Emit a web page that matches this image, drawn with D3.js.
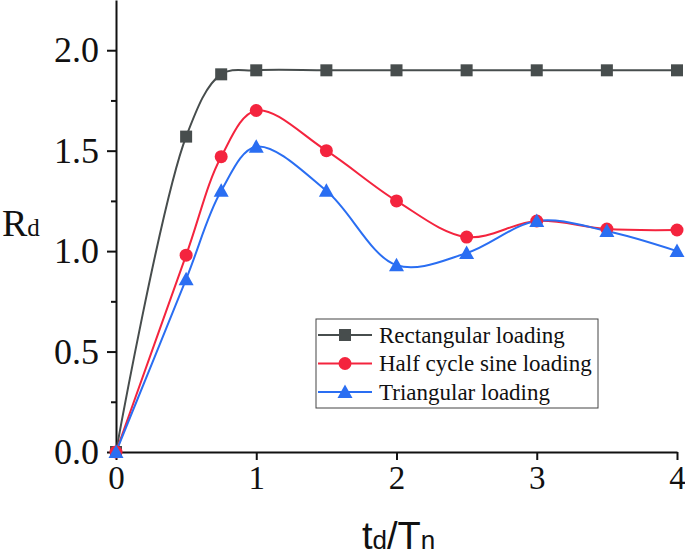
<!DOCTYPE html>
<html><head><meta charset="utf-8">
<script src="https://cdn.jsdelivr.net/npm/d3@7"></script>
<style>body{margin:0;background:#fff}svg{display:block}</style>
</head><body><svg id="c" width="685" height="558"></svg>
<script>
const xValues = [0, 0.5, 0.75, 1, 1.5, 2, 2.5, 3, 3.5, 4];
const rectangular = [0, 1.57, 1.88, 1.90, 1.90, 1.90, 1.90, 1.90, 1.90, 1.90];
const halfSine = [0, 0.98, 1.47, 1.70, 1.50, 1.25, 1.07, 1.15, 1.11, 1.105];
const triangular = [0, 0.86, 1.30, 1.52, 1.30, 0.93, 0.99, 1.15, 1.10, 1.00];
const seriesNames = ["Rectangular loading", "Half cycle sine loading", "Triangular loading"];
const xTicks = [0, 1, 2, 3, 4];
const yTicks = [0, 0.5, 1.0, 1.5, 2.0];
const yMinorTicks = [0.25, 0.75, 1.25, 1.75];

const colors = ["#474d4d", "#f4243e", "#2a6ef2"];
const shapes = ["square", "circle", "triangle"];

const svg = d3.select("#c");
const x = d3.scaleLinear().domain([0, 4]).range([116, 677]);
const y = d3.scaleLinear().domain([0, 2.25]).range([452, 0]);

const serif = "'Liberation Serif','Times New Roman',serif";
const sans = "'Liberation Sans',Arial,sans-serif";

// axes
const yAxis = svg.append("g").attr("transform", `translate(${x(0)},0)`)
  .call(d3.axisLeft(y).tickValues(yTicks).tickFormat(d3.format(".1f")).tickSize(9).tickSizeOuter(0).tickPadding(8));
svg.append("g").attr("transform", `translate(${x(0)},0)`)
  .call(d3.axisLeft(y).tickValues(yMinorTicks).tickFormat("").tickSize(5).tickSizeOuter(0))
  .select(".domain").remove();
yAxis.selectAll("text").attr("font-family", serif).attr("font-size", 36).attr("fill", "#111");
const xAxis = svg.append("g").attr("transform", `translate(0,${y(0)})`)
  .call(d3.axisBottom(x).tickValues(xTicks).tickFormat(d3.format("d")).tickSize(8).tickSizeOuter(0).tickPadding(6));
xAxis.selectAll("text").attr("font-family", serif).attr("font-size", 33).attr("fill", "#111");
svg.selectAll(".domain").attr("stroke", "#111").attr("stroke-width", 2);
svg.selectAll(".tick line").attr("stroke", "#111").attr("stroke-width", 2);

// axis titles
const yt = svg.append("text").attr("x", 2).attr("y", 236).attr("font-family", serif).attr("fill", "#111");
yt.append("tspan").attr("font-size", 38).text("R");
yt.append("tspan").attr("font-size", 25).text("d");
const xt = svg.append("text").attr("x", 362).attr("y", 549).attr("font-family", sans).attr("fill", "#111");
xt.append("tspan").attr("font-size", 38).text("t");
xt.append("tspan").attr("font-size", 26).text("d");
xt.append("tspan").attr("font-size", 38).text("/T");
xt.append("tspan").attr("font-size", 26).text("n");

const data = [rectangular, halfSine, triangular];
const line = d3.line().x(d => x(d[0])).y(d => y(d[1])).curve(d3.curveCatmullRom.alpha(0.5));

function marker(g, shape, color) {
  if (shape === "square") g.append("rect").attr("x", -6).attr("y", -6).attr("width", 12).attr("height", 12).attr("fill", color);
  else if (shape === "circle") g.append("circle").attr("r", 6.5).attr("fill", color);
  else g.append("path").attr("d", "M0,-7.5L7.5,6L-7.5,6Z").attr("fill", color);
}

data.forEach((vals, i) => {
  const pts = xValues.map((xv, j) => [xv, vals[j]]);
  svg.append("path").attr("d", line(pts)).attr("fill", "none").attr("stroke", colors[i]).attr("stroke-width", 2);
});
data.forEach((vals, i) => {
  xValues.forEach((xv, j) => {
    const g = svg.append("g").attr("transform", `translate(${x(xv)},${y(vals[j])})`);
    marker(g, shapes[i], colors[i]);
  });
});

// legend
const lg = svg.append("g");
lg.append("rect").attr("x", 316).attr("y", 319).attr("width", 282).attr("height", 89)
  .attr("fill", "#fff").attr("stroke", "#444").attr("stroke-width", 1);
seriesNames.forEach((name, i) => {
  const cy = 335 + i * 28.5;
  lg.append("line").attr("x1", 318).attr("x2", 372).attr("y1", cy).attr("y2", cy).attr("stroke", colors[i]).attr("stroke-width", 2);
  marker(lg.append("g").attr("transform", `translate(345,${cy})`), shapes[i], colors[i]);
  lg.append("text").attr("x", 379).attr("y", cy + 7.5).attr("font-family", serif).attr("font-size", 23).attr("fill", "#111").text(name);
});
</script></body></html>
